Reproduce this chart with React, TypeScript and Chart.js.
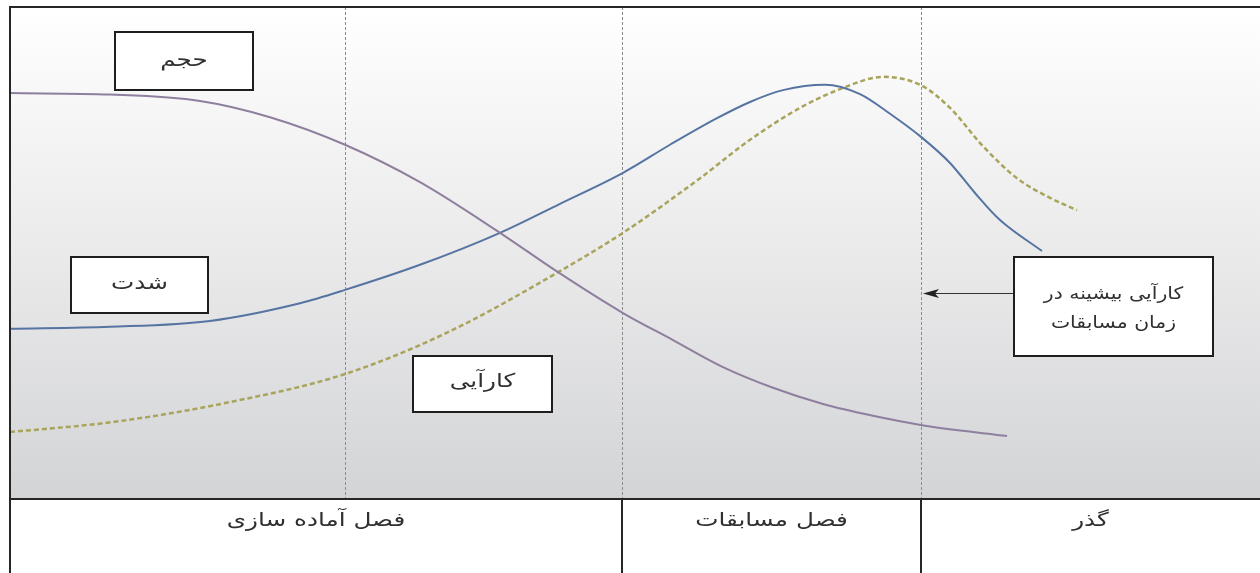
import React, { useEffect, useRef } from "react";
import { Chart, registerables } from "chart.js";

Chart.register(...registerables);

// Training-cycle curves: x = time through the season, y = relative level (0–100)
const volumeX = [0, 10, 19, 26, 33.5, 41, 49, 54.8, 61.3, 66.3, 71.3, 76.3, 81.3, 86.3, 91.2, 96.3, 99.7];
const volumeY = [82.5, 82.2, 80.9, 77.6, 72.0, 64.4, 54.1, 46.1, 37.8, 32.3, 26.8, 22.6, 19.3, 16.9, 15.0, 13.6, 12.8];

const intensityX = [0, 10, 20, 29, 33.5, 41, 49, 55, 61.3, 66, 70.7, 74, 77.3, 81.5, 85, 88, 91.1, 94, 96.5, 99, 103.2];
const intensityY = [34.6, 35.0, 36.2, 39.8, 42.5, 47.6, 54.1, 60.0, 66.3, 72.0, 77.4, 80.7, 83.1, 84.2, 82.3, 78.3, 73.6, 68.3, 62.2, 56.7, 50.4];

const performanceX = [0, 10.5, 22, 33.5, 44, 54.8, 61.3, 69, 74, 79, 83, 87.3, 91.1, 94, 97.3, 100.7, 104, 106.7];
const performanceY = [13.6, 15.7, 19.7, 25.4, 34.1, 46.1, 54.1, 65.2, 73.0, 79.5, 83.3, 85.8, 84.1, 79.5, 71.7, 65.2, 61.2, 58.7];

// Season phases (boundaries on the time axis) and their names
const phaseBounds = [0, 61.2, 91.1, 125];
const phaseLabels = ["فصل آماده سازی", "فصل مسابقات", "گذر"];
// Dashed guides inside the chart
const guideX = [33.5, 61.2, 91.1];

// Labelled boxes placed at data coordinates
const notes = [
  { lines: ["حجم"], x: 17.4, y: 89.0, w: 138, h: 58, size: 19, stretch: 1.3, base: [5] },
  { lines: ["شدت"], x: 12.95, y: 43.5, w: 137, h: 56, size: 19, stretch: 1.3, base: [4] },
  { lines: ["کارآیی"], x: 47.25, y: 23.4, w: 139, h: 56, size: 19, stretch: 1.3, base: [3] },
  { lines: ["کارآیی بیشینه در", "زمان مسابقات"], x: 110.35, y: 39.1, w: 199, h: 99, size: 17, stretch: 1.2, base: [-8, 21] },
];
// Arrow from the last box to the peak-performance guide
const arrowFrom = { x: 100.4, y: 41.9 };
const arrowTo = { x: 91.3, y: 41.9 };

const FONT = '"DejaVu Sans", sans-serif';

const pts = (xs: number[], ys: number[]) => xs.map((x, i) => ({ x, y: ys[i] }));

// Persian text drawn slightly widened, centred on (x, y) baseline
function wideText(ctx: CanvasRenderingContext2D, s: string, x: number, y: number, size: number, k: number) {
  ctx.save();
  ctx.translate(x, y);
  ctx.scale(k, 1);
  ctx.font = `${size}px ${FONT}`;
  ctx.textAlign = "center";
  ctx.textBaseline = "alphabetic";
  ctx.direction = "rtl";
  ctx.fillText(s, 0, 0);
  ctx.restore();
}

const decorPlugin = {
  id: "decor",
  beforeDatasetsDraw(chart: any) {
    const { ctx, chartArea: a, scales } = chart;
    ctx.save();
    const g = ctx.createLinearGradient(0, a.top, 0, a.bottom);
    g.addColorStop(0, "#ffffff");
    g.addColorStop(0.5, "#eaeaeb");
    g.addColorStop(1, "#d3d4d6");
    ctx.fillStyle = g;
    ctx.fillRect(a.left, a.top, a.right - a.left, a.bottom - a.top);

    ctx.strokeStyle = "#8c8c8c";
    ctx.lineWidth = 1;
    ctx.setLineDash([3, 2]);
    guideX.forEach((v) => {
      const px = Math.round(scales.x.getPixelForValue(v)) + 0.5;
      ctx.beginPath();
      ctx.moveTo(px, a.top);
      ctx.lineTo(px, a.bottom);
      ctx.stroke();
    });
    ctx.restore();
  },
  afterDatasetsDraw(chart: any) {
    const { ctx, chartArea: a, scales, width, height } = chart;
    const sx = (v: number) => scales.x.getPixelForValue(v);
    const sy = (v: number) => scales.y.getPixelForValue(v);
    ctx.save();
    ctx.setLineDash([]);

    // phase table below the chart
    ctx.fillStyle = "#ffffff";
    ctx.fillRect(a.left, a.bottom, width - a.left, height - a.bottom);
    ctx.fillStyle = "#303030";
    phaseLabels.forEach((lab, i) => {
      const l = sx(phaseBounds[i]);
      const r = Math.min(sx(phaseBounds[i + 1]), width);
      wideText(ctx, lab, (l + r) / 2, a.bottom + 27, 19, 1.3);
    });

    // frame and table dividers
    ctx.strokeStyle = "#262626";
    ctx.lineWidth = 2;
    ctx.beginPath();
    ctx.moveTo(a.left, height);
    ctx.lineTo(a.left, a.top);
    ctx.lineTo(width, a.top);
    ctx.moveTo(a.left, a.bottom);
    ctx.lineTo(width, a.bottom);
    phaseBounds.slice(1, -1).forEach((v) => {
      const px = Math.round(sx(v));
      ctx.moveTo(px, a.bottom);
      ctx.lineTo(px, height);
    });
    ctx.stroke();

    // arrow
    const ax0 = sx(arrowFrom.x), ay = Math.round(sy(arrowFrom.y)) + 0.5;
    const ax1 = sx(arrowTo.x);
    ctx.strokeStyle = "#333333";
    ctx.lineWidth = 1;
    ctx.beginPath();
    ctx.moveTo(ax0, ay);
    ctx.lineTo(ax1 + 10, ay);
    ctx.stroke();
    ctx.fillStyle = "#222222";
    ctx.beginPath();
    ctx.moveTo(ax1, ay);
    ctx.lineTo(ax1 + 16, ay - 4.5);
    ctx.lineTo(ax1 + 12, ay);
    ctx.lineTo(ax1 + 16, ay + 4.5);
    ctx.closePath();
    ctx.fill();

    // labelled boxes
    notes.forEach((n) => {
      const cx = sx(n.x), cy = sy(n.y);
      const l = Math.round(cx - n.w / 2), t = Math.round(cy - n.h / 2);
      ctx.fillStyle = "#ffffff";
      ctx.fillRect(l, t, n.w, n.h);
      ctx.strokeStyle = "#1e1e1e";
      ctx.lineWidth = 2;
      ctx.strokeRect(l, t, n.w, n.h);
      ctx.fillStyle = "#303030";
      n.lines.forEach((s, i) => wideText(ctx, s, cx, cy + n.base[i], n.size, n.stretch));
    });
    ctx.restore();
  },
};

export default function App() {
  const ref = useRef<HTMLCanvasElement | null>(null);

  useEffect(() => {
    document.body.style.margin = "0";
    if (!ref.current) return;
    const line = (label: string, data: any, color: string, dash: number[] = [], w = 2) => ({
      label,
      data,
      borderColor: color,
      borderWidth: w,
      borderDash: dash,
      pointRadius: 0,
      fill: false,
      cubicInterpolationMode: "monotone" as const,
    });
    const chart = new Chart(ref.current, {
      type: "line",
      data: {
        datasets: [
          line("حجم", pts(volumeX, volumeY), "#8e7f9e"),
          line("شدت", pts(intensityX, intensityY), "#5674a2"),
          line("کارآیی", pts(performanceX, performanceY), "#a9a45c", [5, 3], 2.5),
        ],
      },
      options: {
        animation: false,
        responsive: false,
        devicePixelRatio: 1,
        layout: { padding: { left: 10, top: 7, right: 0, bottom: 74 } },
        plugins: { legend: { display: false }, tooltip: { enabled: false } },
        events: [],
        scales: {
          x: { type: "linear", min: 0, max: 125, display: false },
          y: { type: "linear", min: 0, max: 100, display: false },
        },
      },
      plugins: [decorPlugin],
    });
    return () => chart.destroy();
  }, []);

  return (
    <div style={{ width: 1260, height: 573 }}>
      <canvas ref={ref} width={1260} height={573} />
    </div>
  );
}
